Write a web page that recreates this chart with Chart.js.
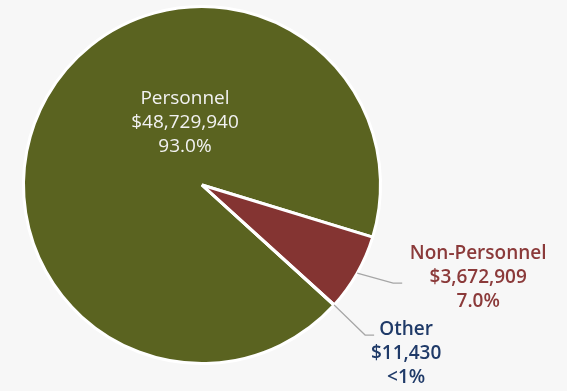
<!DOCTYPE html>
<html>
<head>
<meta charset="utf-8">
<script src="https://cdn.jsdelivr.net/npm/chart.js@4.4.1/dist/chart.umd.min.js"></script>
<style>
  html, body { margin: 0; padding: 0; background: #f7f7f7; }
  #wrap { width: 567px; height: 391px; position: relative; }
</style>
</head>
<body>
<div id="wrap"><canvas id="c" width="567" height="391"></canvas></div>
<script>
// Budget split by category
const categories = ['Personnel', 'Non-Personnel', 'Other'];
const amounts = [48729940, 3672909, 11430];
const sliceColors = ['#5a6320', '#843432', '#1f3a68'];
const labelColors = ['#f2f2f2', '#8b3a3a', '#1f3a68'];

const total = amounts.reduce((a, b) => a + b, 0);

function money(v) {
  return '$' + v.toLocaleString('en-US');
}
function pct(v) {
  const p = v / total * 100;
  return p < 1 ? '<1%' : p.toFixed(1) + '%';
}

const LINE_H = 24;

// Label placement: Personnel sits inside relative to the pie centre,
// the two small slices get callouts anchored to their outer edge.
const labelPlacement = [
  { mode: 'center', dx: -17, dy: -81, font: '500 19px "Open Sans", sans-serif' },
  { mode: 'edge', dx: 121, dy: -14, leader: [[36, 10], [45, 10]], font: '600 19px "Open Sans", sans-serif' },
  { mode: 'edge', dx: 72, dy: 30, leader: [[31, 30], [40, 30]], font: '600 19px "Open Sans", sans-serif' }
];

const calloutPlugin = {
  id: 'callouts',
  afterDatasetsDraw(chart) {
    const ctx = chart.ctx;
    const arcs = chart.getDatasetMeta(0).data;
    ctx.save();
    ctx.textAlign = 'center';
    ctx.textBaseline = 'alphabetic';
    arcs.forEach((arc, i) => {
      const { x, y, startAngle, endAngle, outerRadius } = arc.getProps(['x', 'y', 'startAngle', 'endAngle', 'outerRadius'], true);
      const place = labelPlacement[i];
      let ax, ay;
      if (place.mode === 'center') {
        ax = x; ay = y;
      } else {
        const mid = (startAngle + endAngle) / 2;
        ax = x + Math.cos(mid) * outerRadius;
        ay = y + Math.sin(mid) * outerRadius;
        ctx.strokeStyle = '#a6a6a6';
        ctx.lineWidth = 1.2;
        ctx.beginPath();
        ctx.moveTo(ax, ay);
        place.leader.forEach(p => ctx.lineTo(ax + p[0], ay + p[1]));
        ctx.stroke();
      }
      const lines = [categories[i], money(amounts[i]), pct(amounts[i])];
      ctx.font = place.font;
      ctx.fillStyle = labelColors[i];
      lines.forEach((t, k) => {
        ctx.fillText(t, ax + place.dx, ay + place.dy + k * LINE_H);
      });
    });
    ctx.restore();
  }
};

new Chart(document.getElementById('c'), {
  type: 'pie',
  data: {
    labels: categories,
    datasets: [{
      data: amounts,
      backgroundColor: sliceColors,
      borderColor: '#ffffff',
      borderWidth: 3
    }]
  },
  options: {
    responsive: false,
    animation: false,
    rotation: -227.7,
    layout: { padding: { left: 22, right: 185, top: 5, bottom: 26 } },
    plugins: {
      legend: { display: false },
      tooltip: { enabled: false }
    }
  },
  plugins: [calloutPlugin]
});
</script>
</body>
</html>
